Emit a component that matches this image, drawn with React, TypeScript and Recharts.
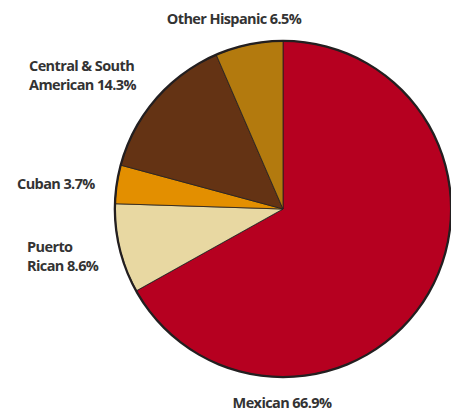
import React from "react";
import { PieChart, Pie, Cell } from "recharts";

const categories = ["Mexican", "Puerto Rican", "Cuban", "Central & South American", "Other Hispanic"];
const values = [66.9, 8.6, 3.7, 14.3, 6.5];
const colors = ["#b60020", "#e8d8a2", "#e38f00", "#643314", "#b37a0e"];

const labelLines: string[][] = [
  ["Mexican 66.9%"],
  ["Puerto", "Rican 8.6%"],
  ["Cuban 3.7%"],
  ["Central & South", "American 14.3%"],
  ["Other Hispanic 6.5%"],
];
const labelLayout = [
  { x: 282, y: 408, anchor: "middle" },
  { x: 27, y: 252, anchor: "start" },
  { x: 17, y: 189, anchor: "start" },
  { x: 29, y: 71, anchor: "start" },
  { x: 234, y: 24, anchor: "middle" },
];

const data = categories.map((name, i) => ({ name, value: values[i] }));
const outline = [{ name: "all", value: 100 }];

const renderLabel = (props: any) => {
  const i = props.index;
  const pos = labelLayout[i];
  return (
    <text
      key={`lbl-${i}`}
      x={pos.x}
      y={pos.y}
      textAnchor={pos.anchor as any}
      fill="#333333"
      fontFamily="'Open Sans', sans-serif"
      fontWeight="bold"
      fontSize={14.5}
      letterSpacing={-0.6}
    >
      {labelLines[i].map((line, j) => (
        <tspan key={j} x={pos.x} dy={j === 0 ? 0 : 19}>
          {line}
        </tspan>
      ))}
    </text>
  );
};

export default function App() {
  return (
    <div style={{ position: "absolute", left: 0, top: 0, background: "#fff" }}>
      <PieChart width={451} height={412} margin={{ top: 0, right: 0, bottom: 0, left: 0 }}>
        <Pie
          data={data}
          dataKey="value"
          cx={283}
          cy={209}
          outerRadius={168}
          startAngle={90}
          endAngle={-270}
          stroke="#231f20"
          strokeWidth={0.8}
          label={renderLabel}
          labelLine={false}
          isAnimationActive={false}
        >
          {data.map((d, i) => (
            <Cell key={d.name} fill={colors[i]} />
          ))}
        </Pie>
        <Pie
          data={outline}
          dataKey="value"
          cx={283}
          cy={209}
          innerRadius={167}
          outerRadius={169.3}
          startAngle={90}
          endAngle={-270}
          fill="#231f20"
          stroke="none"
          isAnimationActive={false}
          legendType="none"
        />
      </PieChart>
    </div>
  );
}
